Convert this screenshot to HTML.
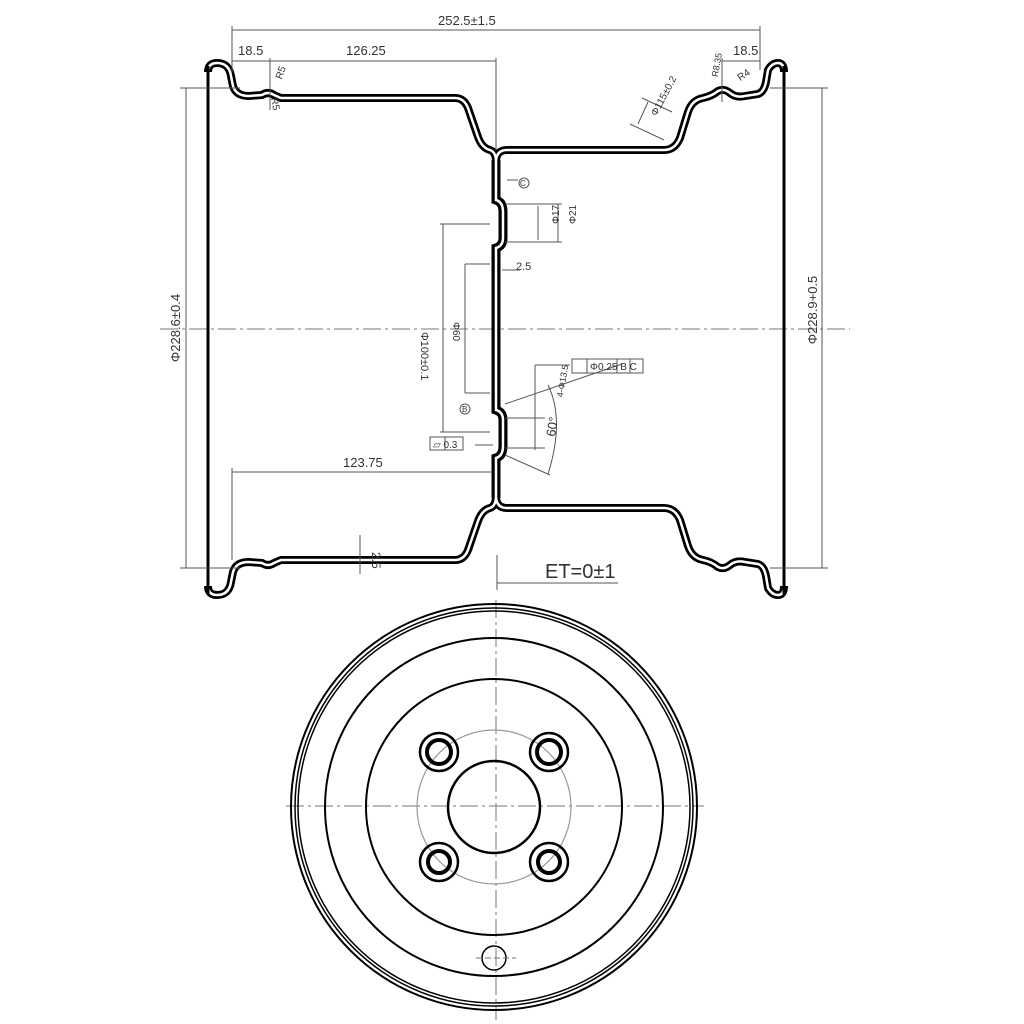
<!DOCTYPE html>
<html><head><meta charset="utf-8"><style>
html,body{margin:0;padding:0;background:#fff}
svg{display:block}
text{font-family:"Liberation Sans",sans-serif;fill:#333}
</style></head><body>
<svg width="1024" height="1024" viewBox="0 0 1024 1024" xmlns="http://www.w3.org/2000/svg">
<defs>
<g id="half">
  <path d="M208,72 Q208,63 217,63 Q229,63 231,76 L233,86 Q236,96 249,96 L262,95 Q268,91 274,95 L281,98 L455,98 Q464,98 468,108 L478,137 Q482,148 490,150 Q496,152 496,162" fill="none" stroke="#000" stroke-width="8"/>
  <path d="M496,162 Q496,150 507,150 L664,150 Q675,150 680,138 L688,112 Q692,100 703,98 Q712,96 718,91 Q724,88 730,93 Q736,98 745,96 L758,94 Q764,92 766,82 L768,70 Q772,63 778,63 Q784,63 784,72" fill="none" stroke="#000" stroke-width="8"/>
  <path d="M208,72 Q208,63 217,63 Q229,63 231,76 L233,86 Q236,96 249,96 L262,95 Q268,91 274,95 L281,98 L455,98 Q464,98 468,108 L478,137 Q482,148 490,150 Q496,152 496,162" fill="none" stroke="#fff" stroke-width="2.5"/>
  <path d="M496,162 Q496,150 507,150 L664,150 Q675,150 680,138 L688,112 Q692,100 703,98 Q712,96 718,91 Q724,88 730,93 Q736,98 745,96 L758,94 Q764,92 766,82 L768,70 Q772,63 778,63 Q784,63 784,72" fill="none" stroke="#fff" stroke-width="2.5"/>
  <path d="M496,160 L496,200 Q503,202 503,212 L503,238 Q503,246 496,248 L496,330" fill="none" stroke="#000" stroke-width="9"/>
  <path d="M496,160 L496,200 Q503,202 503,212 L503,238 Q503,246 496,248 L496,330" fill="none" stroke="#fff" stroke-width="2.5"/>
</g>
</defs>
<g stroke="#777" stroke-width="1" stroke-dasharray="18,4,3,4" fill="none">
  <line x1="160" y1="329" x2="850" y2="329"/>
  <line x1="496" y1="600" x2="496" y2="1020"/>
  <line x1="286" y1="806" x2="704" y2="806"/>
</g>
<use href="#half"/>
<use href="#half" transform="translate(0,658) scale(1,-1)"/>
<line x1="208" y1="66" x2="208" y2="594" stroke="#000" stroke-width="3"/>
<line x1="784" y1="66" x2="784" y2="594" stroke="#000" stroke-width="3"/>
<g stroke="#555" stroke-width="1" fill="none">
  <line x1="232" y1="30" x2="760" y2="30"/>
  <line x1="232" y1="26" x2="232" y2="72"/>
  <line x1="760" y1="26" x2="760" y2="70"/>
  <line x1="232" y1="61" x2="496" y2="61"/>
  <line x1="496" y1="58" x2="496" y2="150"/>
  <line x1="722" y1="61" x2="760" y2="61"/>
  <line x1="722" y1="58" x2="722" y2="102"/>
  <line x1="270" y1="58" x2="270" y2="110"/>
  <line x1="186" y1="88" x2="186" y2="568"/>
  <line x1="180" y1="88" x2="240" y2="88"/>
  <line x1="180" y1="568" x2="240" y2="568"/>
  <line x1="822" y1="88" x2="822" y2="568"/>
  <line x1="770" y1="88" x2="828" y2="88"/>
  <line x1="770" y1="568" x2="828" y2="568"/>
  <line x1="232" y1="472" x2="492" y2="472"/>
  <line x1="232" y1="468" x2="232" y2="560"/>
  <line x1="360" y1="535" x2="360" y2="574"/>
  <line x1="497" y1="583" x2="618" y2="583"/>
  <line x1="497" y1="555" x2="497" y2="590"/>
  <line x1="440" y1="224" x2="490" y2="224"/>
  <line x1="443" y1="224" x2="443" y2="432"/>
  <line x1="440" y1="432" x2="490" y2="432"/>
  <line x1="465" y1="264" x2="490" y2="264"/>
  <line x1="465" y1="264" x2="465" y2="393"/>
  <line x1="465" y1="393" x2="490" y2="393"/>
  <line x1="505" y1="204" x2="562" y2="204"/>
  <line x1="505" y1="242" x2="562" y2="242"/>
  <line x1="538" y1="206" x2="538" y2="240"/>
  <line x1="558" y1="204" x2="558" y2="242"/>
  <line x1="507" y1="180" x2="518" y2="180"/>
  <line x1="502" y1="270" x2="520" y2="270"/>
  <line x1="505" y1="404" x2="622" y2="364"/>
  <line x1="505" y1="455" x2="550" y2="475"/>
  <line x1="535" y1="365" x2="570" y2="365"/>
  <line x1="535" y1="365" x2="535" y2="450"/>
  <line x1="505" y1="418" x2="545" y2="418"/>
  <line x1="505" y1="448" x2="545" y2="448"/>
  <line x1="475" y1="445" x2="493" y2="445"/>
  <path d="M548,385 Q565,420 548,474"/>
  <line x1="642" y1="98" x2="672" y2="112"/>
  <line x1="630" y1="124" x2="664" y2="140"/>
  <line x1="648" y1="102" x2="638" y2="124"/>
</g>
<g stroke="#555" stroke-width="1" fill="none">
  <circle cx="524" cy="183" r="5"/>
  <circle cx="465" cy="409" r="5"/>
  <rect x="430" y="437" width="15" height="13"/><rect x="445" y="437" width="18" height="13"/>
  <rect x="572" y="359" width="15" height="14"/><rect x="587" y="359" width="30" height="14"/><rect x="617" y="359" width="13" height="14"/><rect x="630" y="359" width="13" height="14"/>
</g>
<g font-size="13">
  <text x="438" y="25">252.5±1.5</text>
  <text x="238" y="55">18.5</text>
  <text x="346" y="55">126.25</text>
  <text x="733" y="55">18.5</text>
  <text x="343" y="467">123.75</text>
  <text x="180" y="328" text-anchor="middle" transform="rotate(-90 180 328)">Φ228.6±0.4</text>
  <text x="817" y="310" text-anchor="middle" transform="rotate(-90 817 310)">Φ228.9+0.5</text>
  <text x="376" y="548" transform="rotate(90 372 548)" font-size="12">2.5</text>
  <text x="545" y="578" font-size="20">ET=0±1</text>
  <text x="516" y="270" font-size="11">2.5</text>
  <text x="450" y="357" transform="rotate(90 448 330)" font-size="11">Φ100±0.1</text>
  <text x="472" y="337" transform="rotate(90 470 320)" font-size="10">Φ60</text>
  <text x="545" y="238" transform="rotate(-90 545 224)" font-size="10">Φ17</text>
  <text x="568" y="232" transform="rotate(-90 568 224)" font-size="10">Φ21</text>
  <text x="590" y="370" font-size="10">Φ0.25  B  C</text>
  <text x="543" y="447" transform="rotate(-80 543 435)" font-size="13">60°</text>
  <text x="548" y="410" transform="rotate(-80 548 395)" font-size="9">4-Φ13.5</text>
  <text x="644" y="124" transform="rotate(-62 644 110)" font-size="10">Φ115±0.2</text>
  <text x="705" y="88" transform="rotate(-80 705 75)" font-size="9">R8.35</text>
  <text x="738" y="82" transform="rotate(-35 738 78)" font-size="10">R4</text>
  <text x="272" y="78" transform="rotate(-70 278 72)" font-size="10">R5</text>
  <text x="266" y="104" transform="rotate(80 272 104)" font-size="10">R5</text>
  <text x="433" y="448" font-size="10">▱ 0.3</text>
  <text x="520" y="186" font-size="8">C</text>
  <text x="462" y="412" font-size="8">B</text>
</g>
<g fill="none" stroke="#000">
  <circle cx="494" cy="807" r="203" stroke-width="2"/>
  <circle cx="494" cy="807" r="199" stroke-width="1.5"/>
  <circle cx="494" cy="807" r="196" stroke-width="1.5"/>
  <circle cx="494" cy="807" r="169" stroke-width="2"/>
  <circle cx="494" cy="807" r="128" stroke-width="2"/>
  <circle cx="494" cy="807" r="77" stroke="#999" stroke-width="1.2"/>
  <circle cx="494" cy="807" r="46" stroke-width="2.5"/>
  <circle cx="494" cy="958" r="12" stroke-width="1.5"/>
  <g stroke-width="2.5">
    <circle cx="439" cy="752" r="19"/><circle cx="549" cy="752" r="19"/>
    <circle cx="439" cy="862" r="19"/><circle cx="549" cy="862" r="19"/>
  </g>
  <g stroke-width="4">
    <circle cx="439" cy="752" r="12"/><circle cx="549" cy="752" r="12"/>
    <circle cx="439" cy="862" r="11"/><circle cx="549" cy="862" r="11"/>
  </g>
</g>
<line x1="476" y1="958" x2="516" y2="958" stroke="#777" stroke-dasharray="6,3"/>
</svg>
</body></html>
